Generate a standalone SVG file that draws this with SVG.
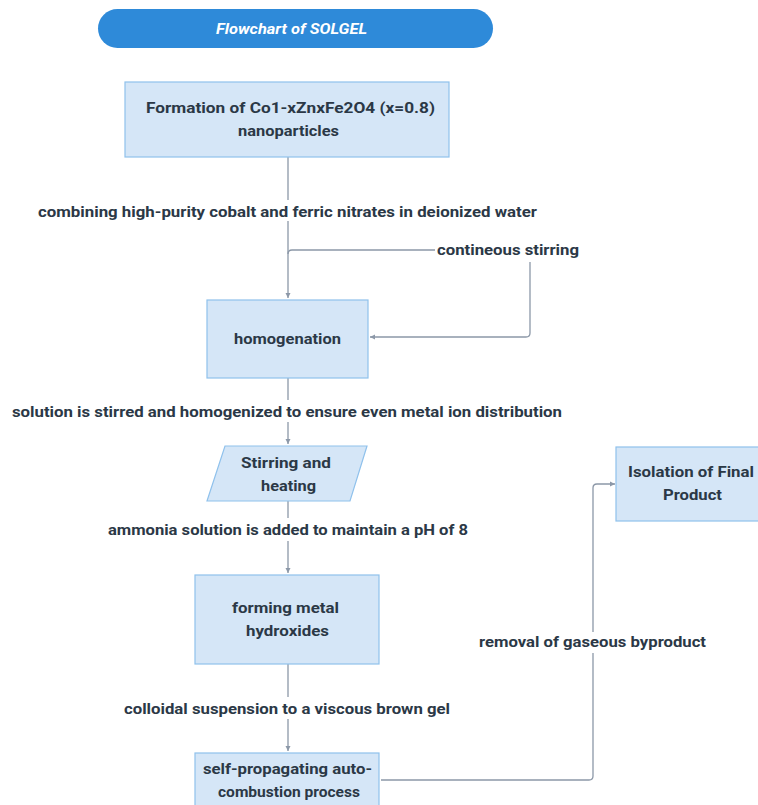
<svg xmlns="http://www.w3.org/2000/svg" width="758" height="805" viewBox="0 0 758 805">
<defs>
<style>
.box{fill:#d5e6f7;stroke:#8fc1ec;stroke-width:1.2}
.t{font-family:Roboto,"Liberation Sans",sans-serif;font-weight:bold;font-size:15px;fill:#2b3846;text-anchor:middle}
.lbl{font-family:Roboto,"Liberation Sans",sans-serif;font-weight:bold;font-size:14.5px;fill:#2b3846;text-anchor:middle}
.ln{fill:none;stroke:#8c98a8;stroke-width:1.3}
.ttl{font-family:Roboto,"Liberation Sans",sans-serif;font-weight:bold;font-style:italic;font-size:15px;fill:#ffffff;text-anchor:middle}
</style>
<marker id="ah" markerWidth="6" markerHeight="6" refX="5" refY="3" orient="auto" markerUnits="userSpaceOnUse">
<path d="M0,0.5 L5,3 L0,5.5 Z" fill="#8c98a8"/>
</marker>
</defs>
<rect width="758" height="805" fill="#ffffff"/>
<g id="title">
<rect x="98" y="9" width="395" height="39" rx="19.5" fill="#2e8ad9"/>
<text class="ttl" x="291.5" y="34" textLength="151" lengthAdjust="spacingAndGlyphs">Flowchart of SOLGEL</text>
</g>
<g id="connectors">
<path class="ln" d="M288 157 V200"/>
<path class="ln" d="M288 221 V298" marker-end="url(#ah)"/>
<path class="ln" d="M435 250 H292 Q288 250 288 254"/>
<path class="ln" d="M530 262 V333 Q530 337 526 337 H370" marker-end="url(#ah)"/>
<path class="ln" d="M288 378 V400"/>
<path class="ln" d="M288 422 V444" marker-end="url(#ah)"/>
<path class="ln" d="M288 501 V518"/>
<path class="ln" d="M288 541 V573" marker-end="url(#ah)"/>
<path class="ln" d="M288 664 V697"/>
<path class="ln" d="M288 719 V751" marker-end="url(#ah)"/>
<path class="ln" d="M381 780 H589 Q593 780 593 776 V653"/>
<path class="ln" d="M593 632 V488 Q593 484 597 484 H615" marker-end="url(#ah)"/>
</g>
<g id="labels">
<text class="lbl" x="287.5" y="217" textLength="499" lengthAdjust="spacingAndGlyphs">combining high-purity cobalt and ferric nitrates in deionized water</text>
<text class="lbl" x="508" y="255" textLength="142" lengthAdjust="spacingAndGlyphs">contineous stirring</text>
<text class="lbl" x="287" y="417" textLength="550" lengthAdjust="spacingAndGlyphs">solution is stirred and homogenized to ensure even metal ion distribution</text>
<text class="lbl" x="288" y="535" textLength="360" lengthAdjust="spacingAndGlyphs">ammonia solution is added to maintain a pH of 8</text>
<text class="lbl" x="287" y="714" textLength="326" lengthAdjust="spacingAndGlyphs">colloidal suspension to a viscous brown gel</text>
<text class="lbl" x="592.5" y="647" textLength="227" lengthAdjust="spacingAndGlyphs">removal of gaseous byproduct</text>
</g>
<g id="formation">
<rect class="box" x="125" y="82" width="324" height="75"/>
<text class="t" x="290.5" y="113" textLength="289" lengthAdjust="spacingAndGlyphs">Formation of Co1-xZnxFe2O4 (x=0.8)</text>
<text class="t" x="288.5" y="136" textLength="101" lengthAdjust="spacingAndGlyphs">nanoparticles</text>
</g>
<g id="homogenation">
<rect class="box" x="207" y="300" width="161" height="78"/>
<text class="t" x="287.5" y="344" textLength="107" lengthAdjust="spacingAndGlyphs">homogenation</text>
</g>
<g id="stirring">
<path class="box" d="M225 446 H367 L350 501 H207 Z"/>
<text class="t" x="286" y="468" textLength="90" lengthAdjust="spacingAndGlyphs">Stirring and</text>
<text class="t" x="288.5" y="491" textLength="55" lengthAdjust="spacingAndGlyphs">heating</text>
</g>
<g id="hydroxides">
<rect class="box" x="195" y="575" width="184" height="89"/>
<text class="t" x="285.5" y="613" textLength="107" lengthAdjust="spacingAndGlyphs">forming metal</text>
<text class="t" x="287.5" y="636" textLength="83" lengthAdjust="spacingAndGlyphs">hydroxides</text>
</g>
<g id="combustion">
<rect class="box" x="195" y="753" width="184" height="60"/>
<text class="t" x="287.5" y="774" textLength="169" lengthAdjust="spacingAndGlyphs">self-propagating auto-</text>
<text class="t" x="289" y="797" textLength="142" lengthAdjust="spacingAndGlyphs">combustion process</text>
</g>
<g id="isolation">
<rect class="box" x="616" y="447" width="150" height="74"/>
<text class="t" x="691" y="477" textLength="126" lengthAdjust="spacingAndGlyphs">Isolation of Final</text>
<text class="t" x="692.5" y="500" textLength="59" lengthAdjust="spacingAndGlyphs">Product</text>
</g>
</svg>
